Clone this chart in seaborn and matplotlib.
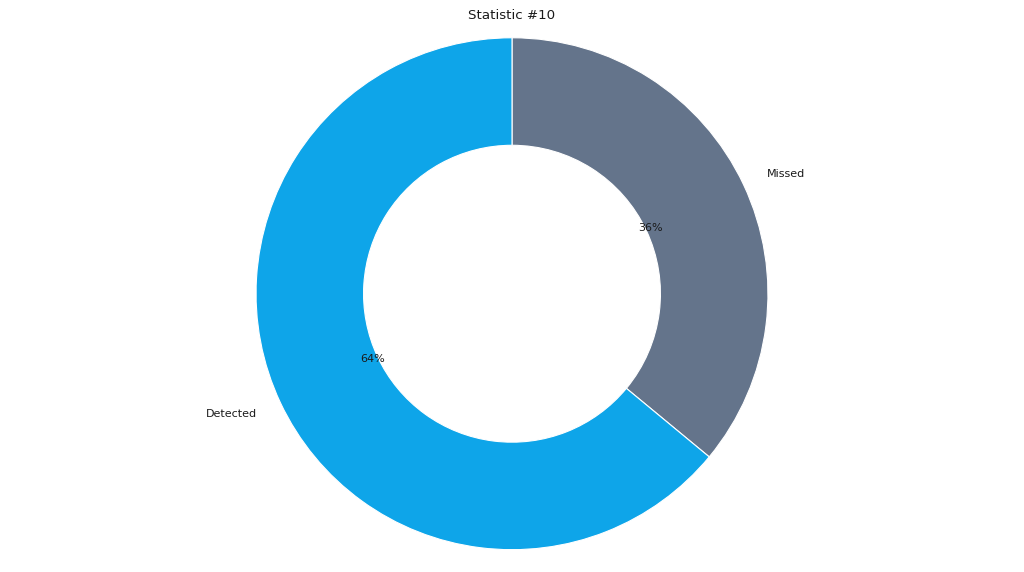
import matplotlib
matplotlib.use("Agg")
import matplotlib.pyplot as plt
import seaborn as sns

# chart data
labels = ["Missed", "Detected"]
values = [36, 64]
colors = ["#64748b", "#0ea5e9"]
title = "Statistic #10"

sns.set_theme(style="white")
plt.rcParams['font.family'] = ['DejaVu Sans']

fig, ax = plt.subplots(figsize=(12.8, 7.15), dpi=80)
ax.pie(values, labels=labels, colors=colors, autopct='%1.0f%%',
       startangle=90, counterclock=False,
       wedgeprops=dict(width=0.42, edgecolor='white', linewidth=1),
       textprops=dict(color='#1a1a1a', fontsize=10))
ax.set_title(title, fontsize=12, color='#1a1a1a')

# layout so the ring fills the height like the original
fig.subplots_adjust(left=0.02, right=0.98, top=0.955, bottom=0.018)
ax.set_ylim(-1.047, 1.047)
ax.set_aspect('equal', adjustable='datalim')
plt.savefig('out.png', dpi=80)
